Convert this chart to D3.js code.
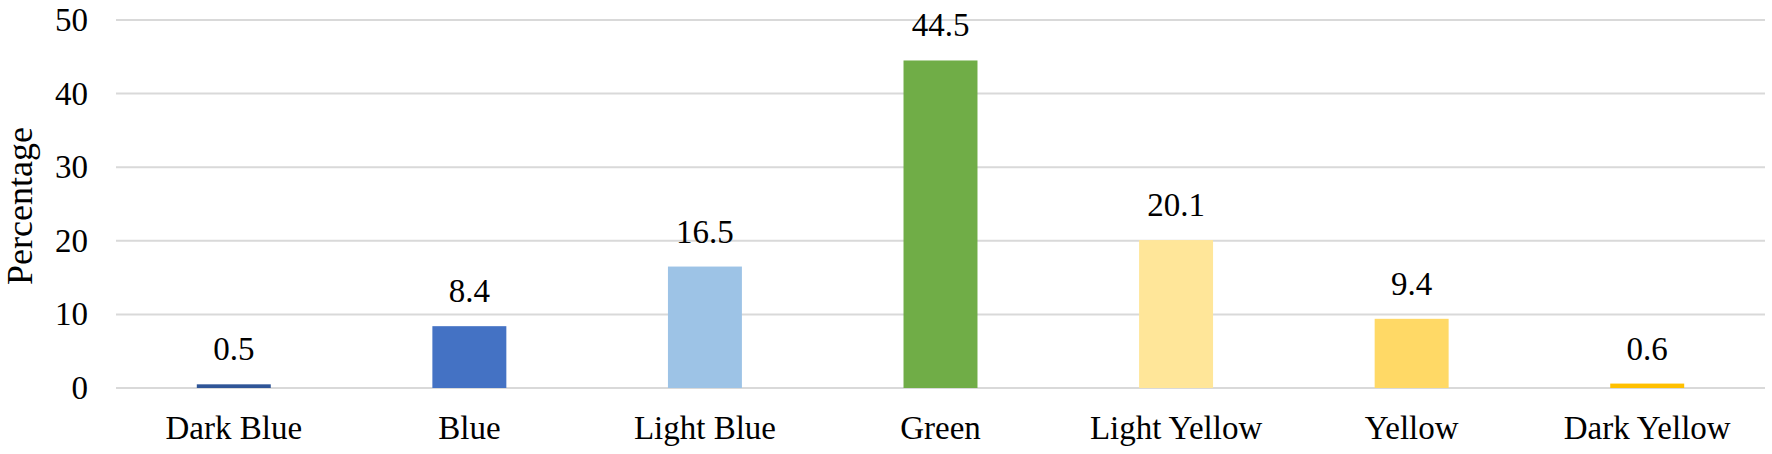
<!DOCTYPE html>
<html>
<head>
<meta charset="utf-8">
<script src="https://cdn.jsdelivr.net/npm/d3@7"></script>
<style>
  body { margin: 0; background: #fff; }
  svg { display: block; font-family: "Liberation Serif", "Times New Roman", serif; }
</style>
</head>
<body>
<svg></svg>
<script>
const categories = ["Dark Blue", "Blue", "Light Blue", "Green", "Light Yellow", "Yellow", "Dark Yellow"];
const values = [0.5, 8.4, 16.5, 44.5, 20.1, 9.4, 0.6];
const barColors = ["#2f5597", "#4472c4", "#9dc3e6", "#70ad47", "#ffe699", "#ffd966", "#ffc000"];
const yTicks = [0, 10, 20, 30, 40, 50];

const width = 1772, height = 454;
const margin = { top: 20, right: 7, bottom: 66, left: 116 };

const svg = d3.select("svg").attr("width", width).attr("height", height);

const x = d3.scaleBand()
  .domain(categories)
  .range([margin.left, width - margin.right])
  .paddingInner(0.686)
  .paddingOuter(0.343);

const y = d3.scaleLinear()
  .domain([0, 50])
  .range([height - margin.bottom, margin.top]);

// gridlines
svg.append("g")
  .selectAll("line")
  .data(yTicks)
  .join("line")
  .attr("x1", margin.left)
  .attr("x2", width - margin.right)
  .attr("y1", d => y(d))
  .attr("y2", d => y(d))
  .attr("stroke", "#d9d9d9")
  .attr("stroke-width", 2);

// y axis labels
const yAxis = svg.append("g")
  .attr("transform", `translate(${margin.left - 28},0)`)
  .call(d3.axisLeft(y).tickValues(yTicks).tickSize(0).tickPadding(0));
yAxis.select(".domain").remove();
yAxis.selectAll("text")
  .attr("font-size", 33)
  .attr("font-family", "Liberation Serif")
  .attr("fill", "#000");

// bars
svg.append("g")
  .selectAll("rect")
  .data(values)
  .join("rect")
  .attr("x", (d, i) => x(categories[i]))
  .attr("width", x.bandwidth())
  .attr("y", d => y(d))
  .attr("height", d => y(0) - y(d))
  .attr("fill", (d, i) => barColors[i]);

// value labels
svg.append("g")
  .selectAll("text")
  .data(values)
  .join("text")
  .attr("x", (d, i) => x(categories[i]) + x.bandwidth() / 2)
  .attr("y", d => y(d) - 24)
  .attr("text-anchor", "middle")
  .attr("font-size", 33)
  .text(d => d.toFixed(1));

// x axis labels
const xAxis = svg.append("g")
  .attr("transform", `translate(0,${y(0)})`)
  .call(d3.axisBottom(x).tickSize(0).tickPadding(0));
xAxis.select(".domain").remove();
xAxis.selectAll("text")
  .attr("dy", null)
  .attr("y", 51)
  .attr("font-size", 33)
  .attr("font-family", "Liberation Serif")
  .attr("fill", "#000");

// y axis title
svg.append("text")
  .attr("transform", `translate(32,${(y(0) + y(50)) / 2 + 2}) rotate(-90)`)
  .attr("text-anchor", "middle")
  .attr("font-size", 36)
  .text("Percentage");
</script>
</body>
</html>
